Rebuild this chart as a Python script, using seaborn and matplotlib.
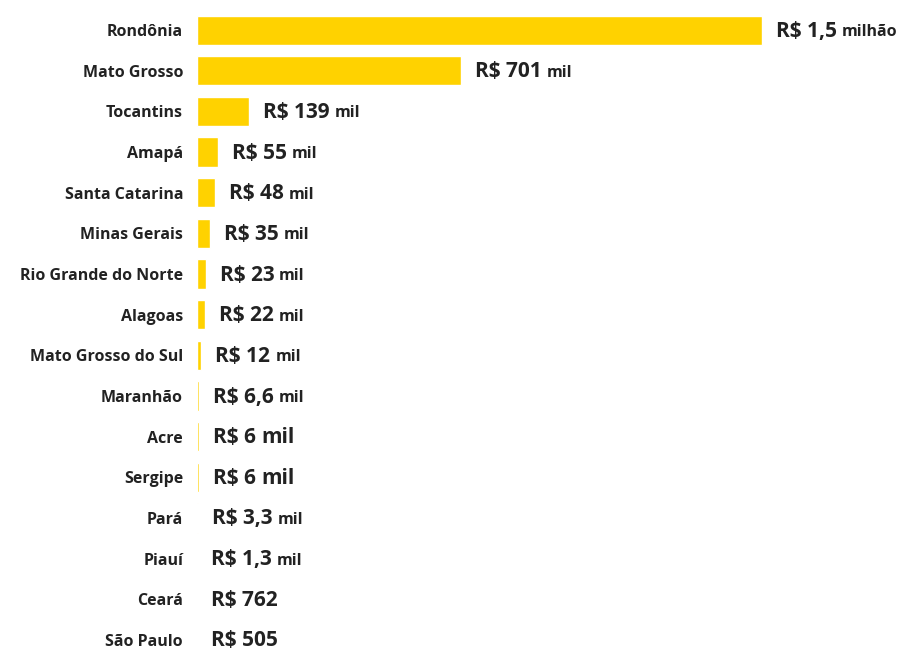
import matplotlib
matplotlib.use("Agg")
import matplotlib.pyplot as plt
import seaborn as sns
import pandas as pd

sns.set_theme(style="white")
plt.rcParams["font.family"] = ["Open Sans", "DejaVu Sans"]

states = ["Rondônia", "Mato Grosso", "Tocantins", "Amapá", "Santa Catarina",
          "Minas Gerais", "Rio Grande do Norte", "Alagoas", "Mato Grosso do Sul",
          "Maranhão", "Acre", "Sergipe", "Pará", "Piauí", "Ceará", "São Paulo"]
values = [1500000, 701000, 139000, 55000, 48000, 35000, 23000, 22000, 12000,
          6600, 6000, 6000, 3300, 1300, 762, 505]
label_main = ["R$ 1,5", "R$ 701", "R$ 139", "R$ 55", "R$ 48", "R$ 35", "R$ 23",
              "R$ 22", "R$ 12", "R$ 6,6", "R$ 6", "R$ 6", "R$ 3,3", "R$ 1,3",
              "R$ 762", "R$ 505"]
label_unit = ["milhão", "mil", "mil", "mil", "mil", "mil", "mil", "mil", "mil",
              "mil", "mil", "mil", "mil", "mil", "", ""]
unit_big = [False] * 10 + [True, True] + [False] * 4

df = pd.DataFrame({"state": states, "value": values})

fig = plt.figure(figsize=(9.16, 6.55), dpi=100)
ax = fig.add_axes([0.215, -0.008, 0.775, 0.993])
sns.barplot(data=df, x="value", y="state", color="#FFD200", width=0.72,
            saturation=1, ax=ax)

ax.set_xlim(0, 1500000 * (907 - 197) / 565)
ax.set_ylim(15.5, -0.5)
sns.despine(ax=ax, left=True, bottom=True)
ax.set_xticks([])
ax.set_xlabel("")
ax.set_ylabel("")
ax.tick_params(axis="y", length=0, pad=10)
for t in ax.get_yticklabels():
    t.set_fontsize(11.5)
    t.set_fontweight("bold")
    t.set_color("#222222")

fig.canvas.draw()
renderer = fig.canvas.get_renderer()
for i, (v, m, u, big) in enumerate(zip(values, label_main, label_unit, unit_big)):
    t = ax.annotate(m, (v, i), xytext=(14, -1), textcoords="offset pixels",
                    va="center", ha="left", fontsize=15, fontweight="bold", color="#222222")
    if u:
        bb = t.get_window_extent(renderer)
        xd, _ = ax.transData.inverted().transform((bb.x1 + 5, 0))
        ax.annotate(u, (xd, i), xytext=(0, -2 if not big else -1), textcoords="offset pixels",
                    va="center", ha="left", fontsize=15 if big else 11.5,
                    fontweight="bold", color="#222222")

fig.savefig("out.png", dpi=100, facecolor="white")
